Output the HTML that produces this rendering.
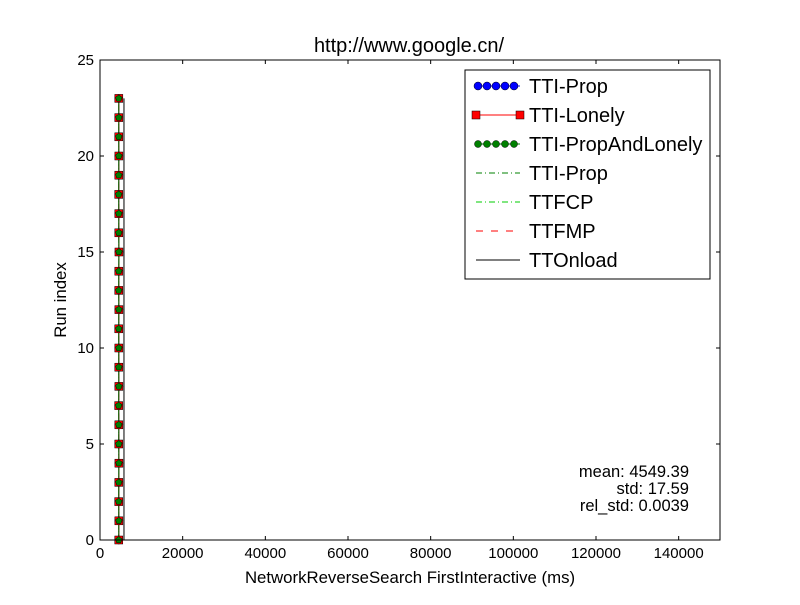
<!DOCTYPE html>
<html><head><meta charset="utf-8"><style>
body{margin:0;background:#fff}
svg text{font-family:"Liberation Sans",sans-serif}
</style></head><body>
<svg id="c" width="800" height="600" viewBox="0 0 800 600">
<rect width="800" height="600" fill="#fff"/>
</svg>
<script>
const runs=[0,1,2,3,4,5,6,7,8,9,10,11,12,13,14,15,16,17,18,19,20,21,22,23];
const ttiProp=[4540,4560,4530,4550,4570,4545,4555,4520,4560,4548,4552,4535,4565,4540,4550,4580,4545,4555,4530,4550,4560,4540,4548,4552];
const ttiLonely=ttiProp.slice();
const ttiPropAndLonely=ttiProp.slice();
const ttfcp=[4540,4560,4530,4550,4570,4545,4555,4520,4560,4548,4552,4535,4565,4540,4550,4580,4545,4555,4530,4550,4560,4540,4548,4552];
const ttfmp=ttfcp.slice();
const ttonload=[5800,5800,5800,5800,5800,5800,5800,5800,5800,5800,5800,5800,5800,5800,5800,5800,5800,5800,5800,5800,5800,5800,5800,5800];
const xTicks=[0,20000,40000,60000,80000,100000,120000,140000];
const yTicks=[0,5,10,15,20,25];
const legendLabels=["TTI-Prop","TTI-Lonely","TTI-PropAndLonely","TTI-Prop","TTFCP","TTFMP","TTOnload"];
const stats=["mean: 4549.39","std: 17.59","rel_std: 0.0039"];

const L=100,R=720,T=60,B=540;
const sx=v=>L+v/150000*(R-L), sy=v=>B-v/25*(B-T);
const svg=document.getElementById('c');const NS='http://www.w3.org/2000/svg';
function mk(t,a,p){const e=document.createElementNS(NS,t);for(const k in a)e.setAttribute(k,a[k]);(p||svg).appendChild(e);return e;}
function pts(xs){return xs.map((v,i)=>sx(v)+','+sy(runs[i])).join(' ');}

let e;
e=mk('polyline',{points:pts(ttonload),fill:'none',stroke:'#000','stroke-width':1});

e=mk('polyline',{points:pts(ttfcp),fill:'none',stroke:'#008000','stroke-width':1,'stroke-dasharray':'6,2,1,2'});

e=mk('polyline',{points:pts(ttfmp),fill:'none',stroke:'#f00','stroke-width':1,'stroke-dasharray':'6,4'});

e=mk('polyline',{points:pts(ttiProp),fill:'none',stroke:'#00f'});

e=mk('polyline',{points:pts(ttiLonely),fill:'none',stroke:'#f00'});

e=mk('polyline',{points:pts(ttiPropAndLonely),fill:'none',stroke:'#008000'});

runs.forEach((r,i)=>{
 let m=mk('circle',{cx:sx(ttiProp[i]),cy:sy(r),r:4,fill:'#00f',stroke:'#000','stroke-width':0.5});
 
 m=mk('rect',{x:sx(ttiLonely[i])-4,y:sy(r)-4,width:8,height:8,fill:'#f00',stroke:'#000','stroke-width':0.5});
 
 const cx=sx(ttiPropAndLonely[i]),cy=sy(r);let p=[];for(let k=0;k<5;k++){const a=-Math.PI/2+k*2*Math.PI/5;p.push((cx+3.5*Math.cos(a))+','+(cy+3.5*Math.sin(a)));}
 m=mk('polygon',{points:p.join(' '),fill:'#008000',stroke:'#000','stroke-width':0.5});
 
});

e=mk('rect',{x:L,y:T,width:R-L,height:B-T,fill:'none',stroke:'#000'});

xTicks.forEach(v=>{const x=sx(v);mk('line',{x1:x,x2:x,y1:B,y2:B-4,stroke:'#000'});mk('line',{x1:x,x2:x,y1:T,y2:T+4,stroke:'#000'});
 const t=mk('text',{x:x,y:B+18,'text-anchor':'middle','font-size':15});t.textContent=v;});
yTicks.forEach(v=>{const y=sy(v);mk('line',{x1:L,x2:L+4,y1:y,y2:y,stroke:'#000'});mk('line',{x1:R,x2:R-4,y1:y,y2:y,stroke:'#000'});
 const t=mk('text',{x:L-6,y:y+5,'text-anchor':'end','font-size':15});t.textContent=v;});

e=mk('text',{x:409,y:52,'text-anchor':'middle','font-size':20});e.textContent='http://www.google.cn/';

e=mk('text',{x:410,y:583,'text-anchor':'middle','font-size':16.8});e.textContent='NetworkReverseSearch FirstInteractive (ms)';

e=mk('text',{x:66,y:300,'text-anchor':'middle','font-size':16.8,transform:'rotate(-90 66 300)'});e.textContent='Run index';

stats.forEach((s,i)=>{const t=mk('text',{x:689,y:477+i*17,'text-anchor':'end','font-size':16.5});t.textContent=s;});

const lg=mk('g',{});
mk('rect',{x:465,y:70,width:245,height:209,fill:'#fff',stroke:'#000'},lg);
legendLabels.forEach((s,i)=>{const y=86+i*29,x1=476,x2=520;
 const st=[{s:'#00f'},{s:'#f00'},{s:'#008000'},{s:'#008000',d:'6,3,1,3'},{s:'#00cc00',d:'6,3,1,3'},{s:'#f00',d:'7,8'},{s:'#000'}][i];
 const ln=mk('line',{x1:x1,x2:x2,y1:y,y2:y,stroke:st.s},lg);if(st.d)ln.setAttribute('stroke-dasharray',st.d);
 if(i===0)for(let k=0;k<5;k++)mk('circle',{cx:x1+k*9+2,cy:y,r:4,fill:'#00f',stroke:'#000','stroke-width':0.5},lg);
 if(i===1)[x1,x2].forEach(x=>mk('rect',{x:x-4,y:y-4,width:8,height:8,fill:'#f00',stroke:'#000','stroke-width':0.5},lg));
 if(i===2)for(let k=0;k<5;k++)mk('circle',{cx:x1+k*9+2,cy:y,r:3.5,fill:'#008000',stroke:'#000','stroke-width':0.5},lg);
 const t=mk('text',{x:529,y:y+7,'font-size':20},lg);t.textContent=s;});
</script>
</body></html>
